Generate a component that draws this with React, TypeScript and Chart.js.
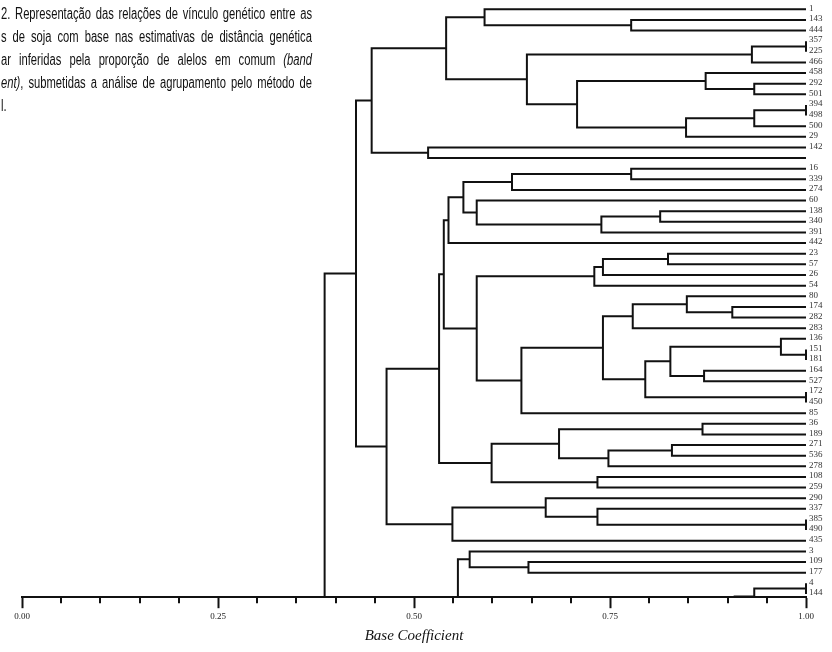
import { useEffect, useRef } from "react";
import { Chart, registerables } from "chart.js";
Chart.register(...registerables);

// ---- data -------------------------------------------------------------
// visible leaves, top to bottom
const leafLabels: string[] = [
  "1", "143", "444", "357", "225", "466", "458", "292", "501", "394", "498", "500",
  "29", "142", "", "16", "339", "274", "60", "138", "340", "391", "442",
  "23", "57", "26", "54", "80", "174", "282", "283", "136", "151", "181", "164", "527",
  "172", "450", "85", "36", "189", "271", "536", "278", "108", "259", "290", "337",
  "385", "490", "435", "3", "109", "177", "4", "144",
];
// ids of the leaves (the unreadable label gets its own id)
const leafIds: string[] = leafLabels.map((l, i) => (l === "" ? "u" + i : l));
// leaves that continue below the cropped bottom edge of the figure
const hiddenLeaves: string[] = ["h56", "h57", "h58", "h59", "h60", "h61", "h62", "h63", "h64", "h65", "h66"];

// merges: [child A, child B, similarity]; numbers refer to earlier merges
type Ref = string | number;
const merges: [Ref, Ref, number][] = [
  ["143", "444", 0.777], // 0
  ["1", 0, 0.59], // 1
  ["357", "225", 1.0], // 2
  [2, "466", 0.931], // 3
  ["292", "501", 0.934], // 4
  ["458", 4, 0.872], // 5
  ["394", "498", 1.0], // 6
  [6, "500", 0.934], // 7
  [7, "29", 0.847], // 8
  [5, 8, 0.708], // 9
  [3, 9, 0.644], // 10
  [1, 10, 0.541], // 11
  ["142", "u14", 0.518], // 12
  [11, 12, 0.446], // 13
  ["16", "339", 0.777], // 14
  [14, "274", 0.625], // 15
  ["138", "340", 0.814], // 16
  [16, "391", 0.739], // 17
  ["60", 17, 0.58], // 18
  [15, 18, 0.563], // 19
  [19, "442", 0.544], // 20
  ["23", "57", 0.824], // 21
  [21, "26", 0.741], // 22
  [22, "54", 0.73], // 23
  ["174", "282", 0.906], // 24
  ["80", 24, 0.848], // 25
  [25, "283", 0.779], // 26
  ["151", "181", 1.0], // 27
  ["136", 27, 0.968], // 28
  ["164", "527", 0.87], // 29
  [28, 29, 0.827], // 30
  ["172", "450", 1.0], // 31
  [30, 31, 0.795], // 32
  [26, 32, 0.741], // 33
  [33, "85", 0.637], // 34
  [23, 34, 0.58], // 35
  [20, 35, 0.538], // 36
  ["36", "189", 0.868], // 37
  ["271", "536", 0.829], // 38
  [38, "278", 0.748], // 39
  [37, 39, 0.685], // 40
  ["108", "259", 0.734], // 41
  [40, 41, 0.599], // 42
  [36, 42, 0.532], // 43
  ["385", "490", 1.0], // 44
  ["337", 44, 0.734], // 45
  ["290", 45, 0.668], // 46
  [46, "435", 0.549], // 47
  [43, 47, 0.465], // 48
  [13, 48, 0.426], // 49
  ["109", "177", 0.646], // 50
  ["3", 50, 0.571], // 51
  ["4", "144", 1.0], // 52
  [52, "h56", 0.934], // 53
  [53, "h57", 0.909], // 54
  ["h58", "h59", 0.8], // 55
  ["h63", "h64", 0.9], // 56
  ["h62", 56, 0.75], // 57
  ["h60", "h61", 0.85], // 58
  [58, 57, 0.72], // 59
  [55, 59, 0.68], // 60
  ["h65", "h66", 0.8], // 61
  [60, 61, 0.7], // 62
  [54, 62, 0.6], // 63
  [51, 63, 0.556], // 64
  [49, 64, 0.386], // 65
];

const majorTicks: number[] = [0, 0.25, 0.5, 0.75, 1];
const minorTicks: number[] = [0.05, 0.1, 0.15, 0.2, 0.3, 0.35, 0.4, 0.45, 0.55, 0.6, 0.65, 0.7, 0.8, 0.85, 0.9, 0.95];
const axisTitle = "Base Coefficient";

const captionLines: string[] = [
  "2. Representação das relações de vínculo genético entre as",
  "s de soja com base nas estimativas de distância genética",
  "ar inferidas pela proporção de alelos em comum *(band*",
  "*ent)*, submetidas a análise de agrupamento pelo método de",
  "l.",
];

// ---- build ------------------------------------------------------------
function buildSegments() {
  const all = [...leafIds, ...hiddenLeaves];
  const pos = new Map<string, number>();
  all.forEach((l, i) => pos.set(l, i));
  const nodes: { y: number; s: number }[] = [];
  const get = (r: Ref) => (typeof r === "number" ? nodes[r] : { y: pos.get(r) as number, s: 1 });
  const pts: { x: number | null; y: number | null }[] = [];
  merges.forEach(([a, b, s]) => {
    const A = get(a);
    const B = get(b);
    pts.push({ x: A.s, y: A.y }, { x: s, y: A.y }, { x: s, y: B.y }, { x: B.s, y: B.y }, { x: null, y: null });
    nodes.push({ y: (A.y + B.y) / 2, s });
  });
  return pts;
}

const isMajor = (v: number) => Math.abs(v * 4 - Math.round(v * 4)) < 1e-9;

function renderWords(line: string) {
  return line.split(" ").map((w, i) => {
    const parts = w.split("*");
    return (
      <span key={i}>
        {parts.map((p, j) => (j % 2 === 1 ? <i key={j}>{p}</i> : <span key={j}>{p}</span>))}
      </span>
    );
  });
}

const CAPTION_WIDTH = 311;
const CAPTION_SQUEEZE = 0.7;

export default function App() {
  const ref = useRef<HTMLCanvasElement | null>(null);
  useEffect(() => {
    document.body.style.margin = "0";
    const canvas = ref.current;
    if (!canvas) return;
    const overlay = {
      id: "overlay",
      afterDraw(chart: any) {
        const { ctx, chartArea, scales } = chart;
        const xs = scales.x;
        const ys = scales.y;
        ctx.save();
        ctx.strokeStyle = "#111";
        ctx.lineWidth = 2;
        minorTicks.forEach((v) => {
          const px = Math.round(xs.getPixelForValue(v));
          ctx.beginPath();
          ctx.moveTo(px, chartArea.bottom);
          ctx.lineTo(px, chartArea.bottom + 6);
          ctx.stroke();
        });
        ctx.font = '9px "Liberation Serif"';
        ctx.fillStyle = "#333";
        ctx.textBaseline = "middle";
        ctx.textAlign = "left";
        leafLabels.forEach((l, i) => {
          ctx.fillText(l, chartArea.right + 3, ys.getPixelForValue(i) - 1);
        });
        ctx.restore();
      },
    };
    const chart = new Chart(canvas, {
      type: "scatter",
      data: {
        datasets: [
          {
            data: buildSegments() as any,
            showLine: true,
            borderColor: "#111",
            borderWidth: 2,
            pointRadius: 0,
            pointHoverRadius: 0,
            spanGaps: false,
            tension: 0,
            borderJoinStyle: "miter",
            clip: { left: 0, top: 6, right: 6, bottom: 0 } as any,
          },
        ],
      },
      options: {
        responsive: false,
        animation: false,
        devicePixelRatio: 1,
        events: [],
        layout: { padding: { left: 22, right: 26, top: 0, bottom: 5 } },
        plugins: { legend: { display: false }, tooltip: { enabled: false } },
        scales: {
          x: {
            type: "linear",
            min: 0,
            max: 1,
            position: "bottom",
            afterBuildTicks: (s: any) => {
              s.ticks = [...majorTicks, ...minorTicks].sort((a, b) => a - b).map((v) => ({ value: v }));
            },
            ticks: {
              autoSkip: false,
              maxRotation: 0,
              padding: 3,
              color: "#222",
              font: { family: "Liberation Serif", size: 9 },
              callback: (v: any) => (isMajor(Number(v)) ? Number(v).toFixed(2) : ""),
            },
            grid: {
              drawOnChartArea: false,
              drawTicks: true,
              tickLength: 11,
              tickWidth: 2,
              tickColor: (c: any) => (c.tick && isMajor(c.tick.value) ? "#111" : "rgba(0,0,0,0)"),
            },
            border: { display: true, color: "#111", width: 2 },
            title: {
              display: true,
              text: axisTitle,
              color: "#111",
              font: { family: "Liberation Serif", size: 15, style: "italic" },
              padding: { top: 2, bottom: 2 },
            },
          },
          y: { type: "linear", display: false, reverse: true, min: -0.87, max: 55.31 },
        },
      },
      plugins: [overlay],
    });
    return () => chart.destroy();
  }, []);

  return (
    <div style={{ position: "relative", width: 832, height: 652, background: "#fff" }}>
      <canvas ref={ref} width={832} height={652} style={{ display: "block" }} />
      <div
        style={{
          position: "absolute",
          left: 1,
          top: 2,
          width: CAPTION_WIDTH / CAPTION_SQUEEZE,
          transform: `scaleX(${CAPTION_SQUEEZE})`,
          transformOrigin: "0 0",
          fontFamily: '"Liberation Sans", Arial, sans-serif',
          fontSize: 16,
          lineHeight: "23px",
          color: "#111",
        }}
      >
        {captionLines.map((line, i) => (
          <div
            key={i}
            style={{
              display: "flex",
              justifyContent: i < captionLines.length - 1 ? "space-between" : "flex-start",
              whiteSpace: "nowrap",
              height: 23,
            }}
          >
            {renderWords(line)}
          </div>
        ))}
      </div>
    </div>
  );
}
